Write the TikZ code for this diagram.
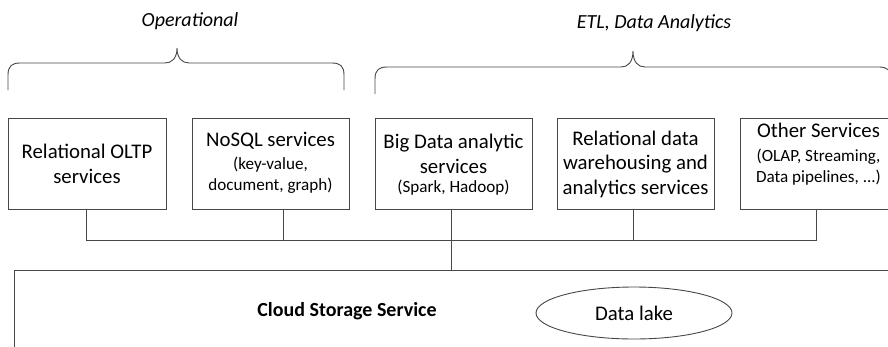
\documentclass[tikz,border=0pt]{standalone}
\usepackage{fontspec}
\setmainfont{Carlito}
\usetikzlibrary{shapes.geometric}
\begin{document}
\begin{tikzpicture}[x=1pt,y=-1pt,
  ln/.style={draw=black!72, line width=0.9pt},
  svcbox/.style={ln, rectangle, minimum width=157pt, minimum height=91pt, inner sep=0pt},
  big/.style={font=\fontsize{20.8}{24.5}\selectfont, align=center, inner sep=0pt},
  small/.style={font=\fontsize{17.1}{21}\selectfont, align=center, inner sep=0pt},
  grp/.style={font=\fontsize{20}{22}\selectfont\itshape, inner sep=0pt}]
\useasboundingbox (0,0) rectangle (888,346);
\clip (0,0) rectangle (888,346);
% group labels
\node[grp] (op) at (190,21) {Operational};
\node[grp] (etl) at (654,23) {ETL, Data Analytics};
% braces
\draw[ln] (8,90) -- (8,75) .. controls (8,66) and (12,63) .. (20,63) -- (165,63)
  .. controls (172,63) and (177,58) .. (177,48) .. controls (177,58) and (182,63) .. (189,63)
  -- (332,63) .. controls (340,63) and (344,66) .. (344,75) -- (344,90);
\draw[ln] (375,94) -- (375,79) .. controls (375,70) and (379,67) .. (387,67) -- (621,67)
  .. controls (628,67) and (633,62) .. (633,51) .. controls (633,62) and (638,67) .. (645,67)
  -- (879,67) .. controls (887,67) and (891,70) .. (891,79) -- (891,94);
% service boxes
\node[svcbox, minimum width=158pt] (b1) at (87,163.5) {};
\node[svcbox] (b2) at (270.5,163.5) {};
\node[svcbox] (b3) at (453.5,163.5) {};
\node[svcbox] (b4) at (635.5,163.5) {};
\node[svcbox] (b5) at (818.5,163.5) {};
% texts
\node[big] (t1) at (87,164) {Relational OLTP\\services};
\node[big] (t2a) at (270.5,141) {NoSQL services};
\node[small] (t2b) at (270.5,175) {(key-value,\\document, graph)};
\node[big] (t3a) at (453.5,154) {Big Data analytic\\services};
\node[small] (t3b) at (453.5,188) {(Spark, Hadoop)};
\node[big] (t4) at (635.5,164) {Relational data\\warehousing and\\analytics services};
\node[big] (t5a) at (818.5,130) {Other Services};
\node[small] (t5b) at (818.5,167) {(OLAP, Streaming,\\Data pipelines, ...)};
% storage
\node[ln, rectangle, minimum width=890pt, minimum height=120pt, anchor=north west, inner sep=0pt] (st) at (14,270) {};
\node[font=\fontsize{20}{22}\selectfont\bfseries, inner sep=0pt] (stl) at (347,311) {Cloud Storage Service};
\node[ln, ellipse, minimum width=196pt, minimum height=52pt, inner sep=0pt, font=\fontsize{20.8}{22}\selectfont] (lake) at (634,313) {Data lake};
% bus
\coordinate (bus) at (0,240);
\coordinate (p1) at ([xshift=-1pt]b1.south);
\coordinate (p2) at ([xshift=12.5pt]b2.south);
\coordinate (p3) at ([xshift=-2.5pt]b3.south);
\coordinate (p4) at ([xshift=-2.5pt]b4.south);
\coordinate (p5) at ([xshift=-2.5pt]b5.south);
\draw[ln] (p1) -- (p1 |- bus) -- (p5 |- bus) -- (p5);
\draw[ln] (p2) -- (p2 |- bus);
\draw[ln] (p4) -- (p4 |- bus);
\draw[ln] (p3) -- (p3 |- st.north);
\end{tikzpicture}
\end{document}
